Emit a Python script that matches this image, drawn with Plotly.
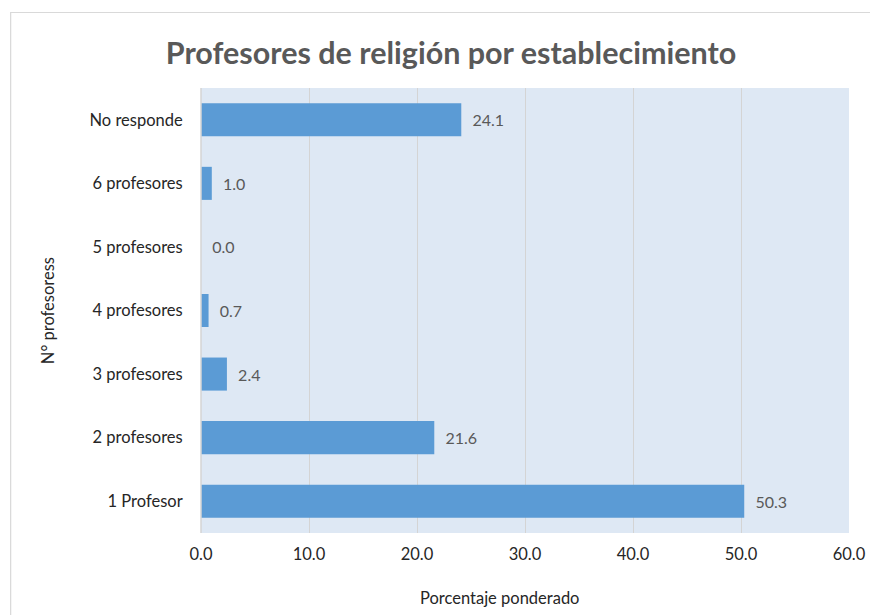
import plotly.graph_objects as go

categories = ["1 Profesor", "2 profesores", "3 profesores", "4 profesores",
              "5 profesores", "6 profesores", "No responde"]
values = [50.3, 21.6, 2.4, 0.7, 0.0, 1.0, 24.1]
x_ticks = [0, 10, 20, 30, 40, 50, 60]

# page body has an 8px margin, so the figure is sized to fit the window
W, H = 870, 607
L, R, T, B = 193, 22, 80, 82
pw = W - L - R
ph = H - T - B

FONT = "Lato"
TXT = "#262626"

fig = go.Figure()
fig.add_trace(go.Bar(
    y=categories, x=values, orientation="h",
    marker=dict(color="#5B9BD5", line=dict(width=0)),
    width=0.52,
    text=[f"{v:.1f}" for v in values],
    texttemplate="  %{text}",
    textposition="outside",
    textfont=dict(family=FONT, size=16, color="#595959"),
    cliponaxis=False,
    hoverinfo="skip",
))

fig.update_layout(
    width=W, height=H,
    margin=dict(l=L, r=R, t=T, b=B),
    paper_bgcolor="white",
    plot_bgcolor="#DEE8F4",
    showlegend=False,
    font=dict(family=FONT, color="#404040"),
    title=dict(text="<b>Profesores de religión por establecimiento</b>",
               x=443 / W, xref="container", xanchor="center",
               y=1 - 45 / H, yanchor="middle",
               font=dict(family=FONT, size=30.5, color="#595959")),
    xaxis=dict(range=[0, 60], tickvals=x_ticks,
               ticktext=[f"{v:.1f}" for v in x_ticks],
               showgrid=True, gridcolor="#D4D4D4", gridwidth=1,
               zeroline=False, showline=False,
               ticks="outside", ticklen=6, tickcolor="rgba(0,0,0,0)",
               tickfont=dict(family=FONT, size=16.5, color=TXT)),
    yaxis=dict(showgrid=False, zeroline=False, showline=False,
               categoryorder="array", categoryarray=categories,
               ticks="outside", ticklen=14, tickcolor="rgba(0,0,0,0)",
               tickfont=dict(family=FONT, size=16.5, color=TXT)),
    bargap=0.48,
    annotations=[
        dict(text="Porcentaje ponderado", xref="paper", yref="paper",
             x=(495 - L) / pw, y=-(590 - (T + ph)) / ph,
             xanchor="center", yanchor="middle",
             showarrow=False, font=dict(family=FONT, size=16.5, color=TXT)),
        dict(text="N° profesoress", xref="paper", yref="paper",
             x=(38 - L) / pw, y=0.5, xanchor="center", yanchor="middle",
             textangle=-90, showarrow=False,
             font=dict(family=FONT, size=16.5, color=TXT)),
    ],
    shapes=[
        dict(type="line", xref="paper", yref="paper",
             x0=0, x1=0, y0=0, y1=1,
             line=dict(color="#D4D4D4", width=1.5)),
        dict(type="rect", xref="paper", yref="paper",
             x0=(0.6 - L) / pw, x1=(W + 5 - L) / pw,
             y0=-(H + 5 - T - ph) / ph, y1=1 + (T - 4.5) / ph,
             line=dict(color="#D9D9D9", width=1.2), layer="below"),
    ],
)

fig.write_html("out.html")
